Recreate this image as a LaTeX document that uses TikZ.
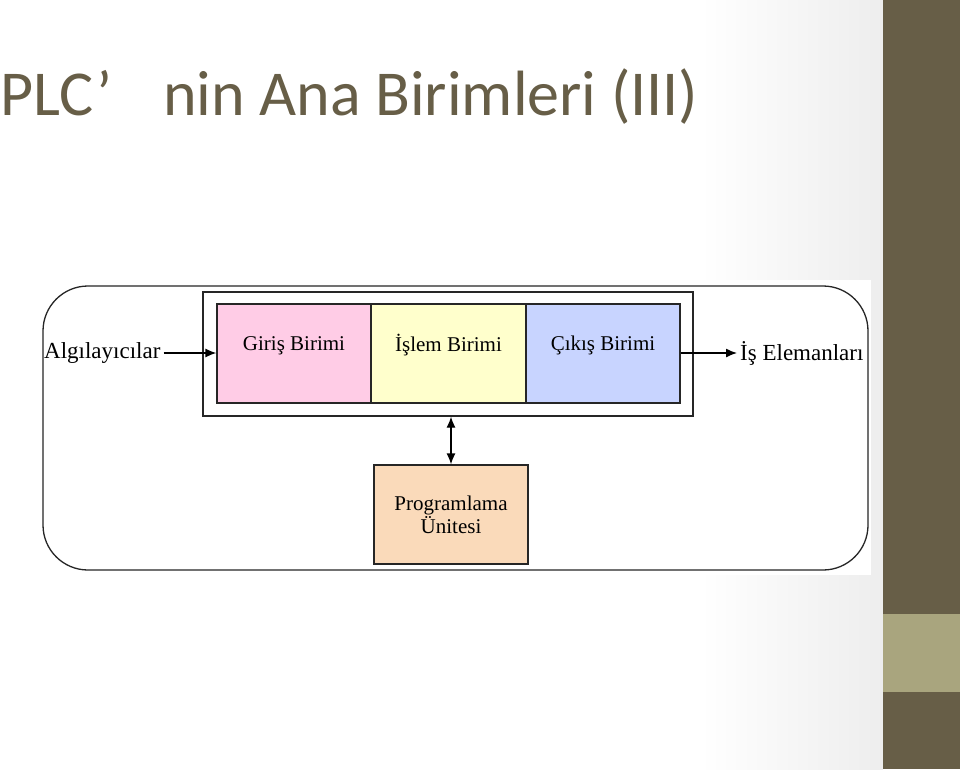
\documentclass[tikz,border=0pt]{standalone}
\usepackage{fontspec}
\setmainfont{Liberation Serif}
\newfontfamily\titlefont{Carlito}
\usetikzlibrary{arrows.meta}
\definecolor{olive}{RGB}{103,94,71}
\definecolor{band}{RGB}{169,165,126}
\definecolor{pinkbox}{RGB}{255,204,230}
\definecolor{yellowbox}{RGB}{255,255,204}
\definecolor{bluebox}{RGB}{200,212,255}
\definecolor{peachbox}{RGB}{250,218,186}
\tikzset{
  unitbox/.style={draw=black!85, line width=1.3pt, minimum width=154pt, minimum height=99pt, inner sep=0pt},
  lbl/.style={font=\fontsize{21}{23}\selectfont},
  sidelbl/.style={font=\fontsize{23}{25}\selectfont},
  arr/.style={line width=1.3pt, -{Latex[length=11pt,width=9pt]}},
  darr/.style={line width=1.3pt, {Latex[length=11pt,width=9pt]}-{Latex[length=11pt,width=9pt]}},
}
\begin{document}
\begin{tikzpicture}[x=1pt,y=-1pt]
\useasboundingbox (0,0) rectangle (960,769);
% slide background
\fill[white] (0,0) rectangle (960,769);
\shade[left color=white, right color=black!7] (700,0) rectangle (883,769);
\fill[olive] (883,0) rectangle (960,769);
\fill[band] (883,614) rectangle (960,692);
% title
\node[anchor=base west, inner sep=0pt, text=olive, font=\titlefont\fontsize{64}{70}\selectfont] (title) at (0,115) {PLC’\hspace{51pt}nin Ana Birimleri (III)};
% picture backdrop
\fill[white] (40,280) rectangle (871,575);
% outer rounded frame
\node[draw=black!85, line width=1.3pt, rounded corners=45pt, minimum width=825pt, minimum height=284pt, inner sep=0pt] (outer) at (455.5,428) {};
% inner frame
\node[draw=black!85, line width=1.3pt, minimum width=490pt, minimum height=124pt, inner sep=0pt] (frame) at (448,354) {};
% units
\node[unitbox, fill=pinkbox, label={[lbl, yshift=8pt]center:Giriş Birimi}] (giris) at (294,353.5) {};
\node[unitbox, fill=yellowbox, minimum width=155pt, label={[lbl, yshift=8pt]center:İşlem Birimi}] (islem) at (448.5,353.5) {};
\node[unitbox, fill=bluebox, label={[lbl, yshift=8pt]center:Çıkış Birimi}] (cikis) at (603,353.5) {};
% side labels
\node[sidelbl, anchor=west, inner sep=3pt] (alg) at (41,353) {Algılayıcılar};
\node[sidelbl, anchor=west, inner sep=3pt] (is) at (737,353) {İş Elemanları};
\draw[arr] (alg.east) -- (alg.east -| giris.west);
\draw[arr] (is.west -| cikis.east) -- (is.west);
% programming unit
\node[draw=black!85, line width=1.3pt, fill=peachbox, minimum width=154pt, minimum height=99pt, align=center, lbl] (prog) at (451,514.5) {Programlama\\Ünitesi};
\draw[darr] (prog.north) -- (prog.north |- frame.south);
\end{tikzpicture}
\end{document}
